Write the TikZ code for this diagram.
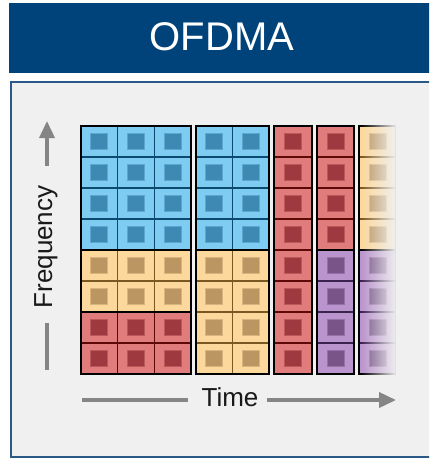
\documentclass[tikz,border=0pt]{standalone}
\usepackage{fontspec}
\setmainfont{Liberation Sans}
\usetikzlibrary{fadings,arrows.meta}
\definecolor{navy}{HTML}{00427A}
\definecolor{panelbg}{HTML}{F0F0F0}
\definecolor{panelline}{HTML}{2B5987}
\definecolor{axisgray}{HTML}{858585}
\definecolor{blueL}{HTML}{7FCCF3}
\definecolor{blueD}{HTML}{3D89B4}
\definecolor{blueB}{HTML}{0B4B70}
\definecolor{tanL}{HTML}{FCD89C}
\definecolor{tanD}{HTML}{BC9662}
\definecolor{tanB}{HTML}{7A5822}
\definecolor{redL}{HTML}{E07C7C}
\definecolor{redD}{HTML}{9E3A3F}
\definecolor{redB}{HTML}{5E0808}
\definecolor{purL}{HTML}{BA95CD}
\definecolor{purD}{HTML}{785489}
\definecolor{purB}{HTML}{3B2350}
\tikzfading[name=fadetoright, left color=transparent!100, right color=transparent!0]
% #1 x0, #2 cell width, #3 ncols, #4 first row (0-based), #5 nrows, #6 colour prefix
\newcommand\cellblock[6]{%
  \foreach \i in {1,...,#3}{\foreach \j in {1,...,#5}{%
    \pgfmathsetmacro\xa{#1+(\i-1)*#2}%
    \pgfmathsetmacro\ya{126+(#4+\j-1)*31}%
    \fill[#6L] (\xa,\ya) rectangle ++(#2,31);
    \filldraw[fill=#6D, draw=#6L!45!#6D, line width=0.9pt] (\xa+#2/2-8.5,\ya+7.5) rectangle ++(17,16);
  }}%
  \foreach \i in {1,...,#3}{\foreach \j in {1,...,#5}{%
    \pgfmathsetmacro\xa{#1+(\i-1)*#2}%
    \pgfmathsetmacro\ya{126+(#4+\j-1)*31}%
    \draw[#6B, line width=1.6pt] (\xa,\ya) rectangle ++(#2,31);
  }}%
  \pgfmathsetmacro\xb{#1+#3*#2}%
  \pgfmathsetmacro\yb{126+#4*31}%
  \pgfmathsetmacro\yc{126+(#4+#5)*31}%
  \draw[black, line width=1.8pt] (#1,\yb) rectangle (\xb,\yc);
}
\begin{document}
\begin{tikzpicture}[x=1pt,y=-1pt,
  axisline/.style={draw=axisgray, line width=3.6pt},
  axishead/.style={-{Triangle[length=17pt,width=15pt]}},
  lbl/.style={font=\fontsize{26}{30}\selectfont, text=black!90, inner sep=0pt}]
\useasboundingbox (0,0) rectangle (429,460);
\clip (0,0) rectangle (429,460);
\fill[white] (0,0) rectangle (429,460);
% title bar
\fill[navy] (9,3) rectangle (440,73);
\node[font=\fontsize{40}{44}\selectfont, text=white] (title) at (222,37) {OFDMA};
% panel
\draw[panelline, line width=2pt, fill=panelbg] (11,82) rectangle (440,457);
% column groups
\cellblock{81}{36.67}{3}{0}{4}{blue}
\cellblock{81}{36.67}{3}{4}{2}{tan}
\cellblock{81}{36.67}{3}{6}{2}{red}
\cellblock{196}{36.5}{2}{0}{4}{blue}
\cellblock{196}{36.5}{2}{4}{4}{tan}
\cellblock{274}{38}{1}{0}{8}{red}
\cellblock{317}{37}{1}{0}{4}{red}
\cellblock{317}{37}{1}{4}{4}{pur}
\cellblock{359}{37}{1}{0}{4}{tan}
\cellblock{359}{37}{1}{4}{4}{pur}
% fade of the last column
\fill[panelbg, path fading=fadetoright] (361,118) rectangle (397,382);
\fill[panelbg] (396,118) rectangle (405,382);
% frequency axis
\node[lbl, rotate=90] (freq) at (46,247) {Frequency};
\coordinate (fup0) at (47,166);
\coordinate (ftop) at (47,121);
\coordinate (fdn0) at (47,323);
\coordinate (fbot) at (47,370);
\draw[axisline, axishead] (fup0) -- (ftop);
\draw[axisline] (fdn0) -- (fbot);
% time axis
\node[lbl] (time) at (230,397) {Time};
\coordinate (tl0) at (82,400);
\coordinate (tl1) at (188,400);
\coordinate (tr0) at (267,400);
\coordinate (tr1) at (396,400);
\draw[axisline] (tl0) -- (tl1);
\draw[axisline, axishead] (tr0) -- (tr1);
\end{tikzpicture}
\end{document}
